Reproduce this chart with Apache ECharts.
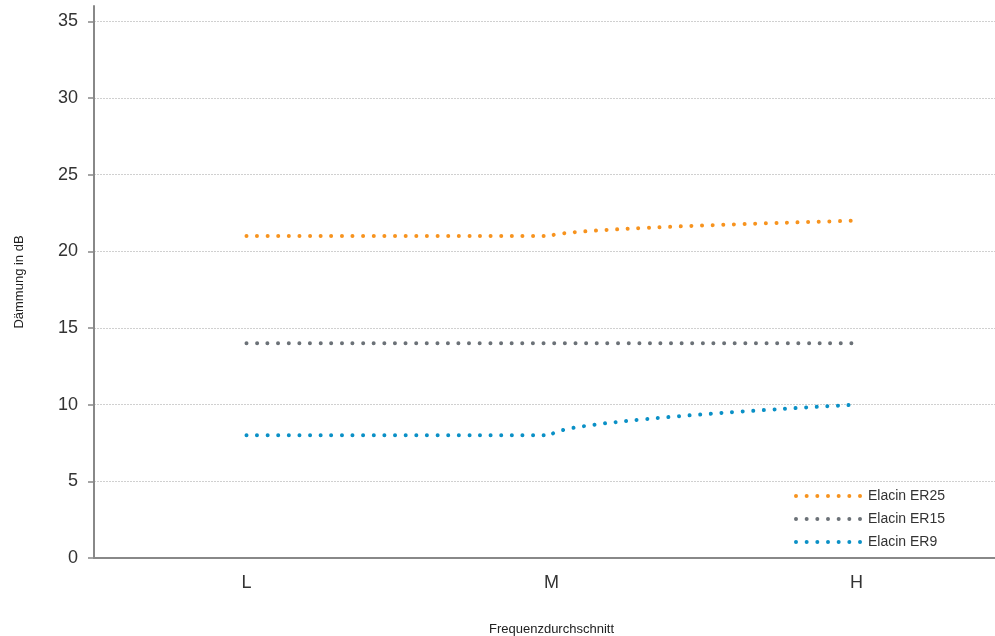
<!DOCTYPE html>
<html><head><meta charset="utf-8">
<script src="https://cdn.jsdelivr.net/npm/echarts@6/dist/echarts.min.js"></script>
<style>html,body{margin:0;padding:0;background:#fff}#c{width:995px;height:636px}</style>
</head><body><div id="c"></div>
<script>
const categories = ['L', 'M', 'H'];
const er25 = [21, 21, 22];
const er15 = [14, 14, 14];
const er9 = [8, 8, 10];
const seriesNames = ['Elacin ER25', 'Elacin ER15', 'Elacin ER9'];
const colors = ['#f7931e', '#6b7177', '#0a90c6'];

// dotted legend icon: 7 small circles
let dotPath = 'path://';
for (let i = 0; i < 7; i++) {
  const cx = 2 + i * 10.67;
  dotPath += 'M' + (cx - 2).toFixed(2) + ',2 a2,2 0 1,0 4,0 a2,2 0 1,0 -4,0 Z ';
}

const chart = echarts.init(document.getElementById('c'));
const font = '"Liberation Sans", Arial, sans-serif';
function mk(name, data, color, mono) {
  const s = {
    name: name, type: 'line', data: data, symbol: 'none', smooth: 0.5,
    color: color,
    lineStyle: { color: color, width: 4, type: [0.01, 10.6], cap: 'round' }
  };
  if (mono) s.smoothMonotone = 'y';
  return s;
}
const gridColor = '#d0d0d0';
chart.setOption({
  animation: false,
  textStyle: { fontFamily: font },
  grid: { left: 94, width: 915, top: 6, bottom: 78, outerBoundsMode: 'none', containLabel: false },
  legend: {
    orient: 'vertical', left: 789, top: 484, itemWidth: 68, itemHeight: 14, itemGap: 9,
    symbolKeepAspect: true,
    textStyle: { fontSize: 14, color: '#333', fontFamily: font, padding: [0, 0, 0, 1] },
    data: seriesNames.map((n, i) => ({ name: n, icon: dotPath, itemStyle: { color: colors[i] } }))
  },
  xAxis: {
    type: 'category', data: categories, boundaryGap: true,
    axisLine: { lineStyle: { color: '#888', width: 2 } },
    axisTick: { alignWithLabel: true, length: 4, lineStyle: { color: '#999', width: 1.5 } },
    axisLabel: { fontSize: 18, color: '#333', margin: 16 },
    name: 'Frequenzdurchschnitt', nameLocation: 'middle', nameGap: 65,
    nameTextStyle: { fontSize: 13, color: '#222' }
  },
  yAxis: {
    type: 'value', min: 0, max: 36, interval: 5,
    axisLine: { show: true, lineStyle: { color: '#888', width: 2 } },
    axisTick: { show: true, length: 6, lineStyle: { color: '#888', width: 1.5 } },
    axisLabel: { fontSize: 18, color: '#333', margin: 16, showMaxLabel: false },
    splitLine: { show: true, lineStyle: { color: [gridColor, gridColor, gridColor, gridColor, gridColor, gridColor, gridColor, gridColor, 'rgba(0,0,0,0)'], type: [2, 1], width: 1 } },
    name: 'Dämmung in dB', nameLocation: 'middle', nameGap: 68, nameRotate: 90,
    nameTextStyle: { fontSize: 13, color: '#222' }
  },
  series: [
    mk(seriesNames[0], er25, colors[0], true),
    mk(seriesNames[1], er15, colors[1], false),
    mk(seriesNames[2], er9, colors[2], true)
  ]
});
</script></body></html>
